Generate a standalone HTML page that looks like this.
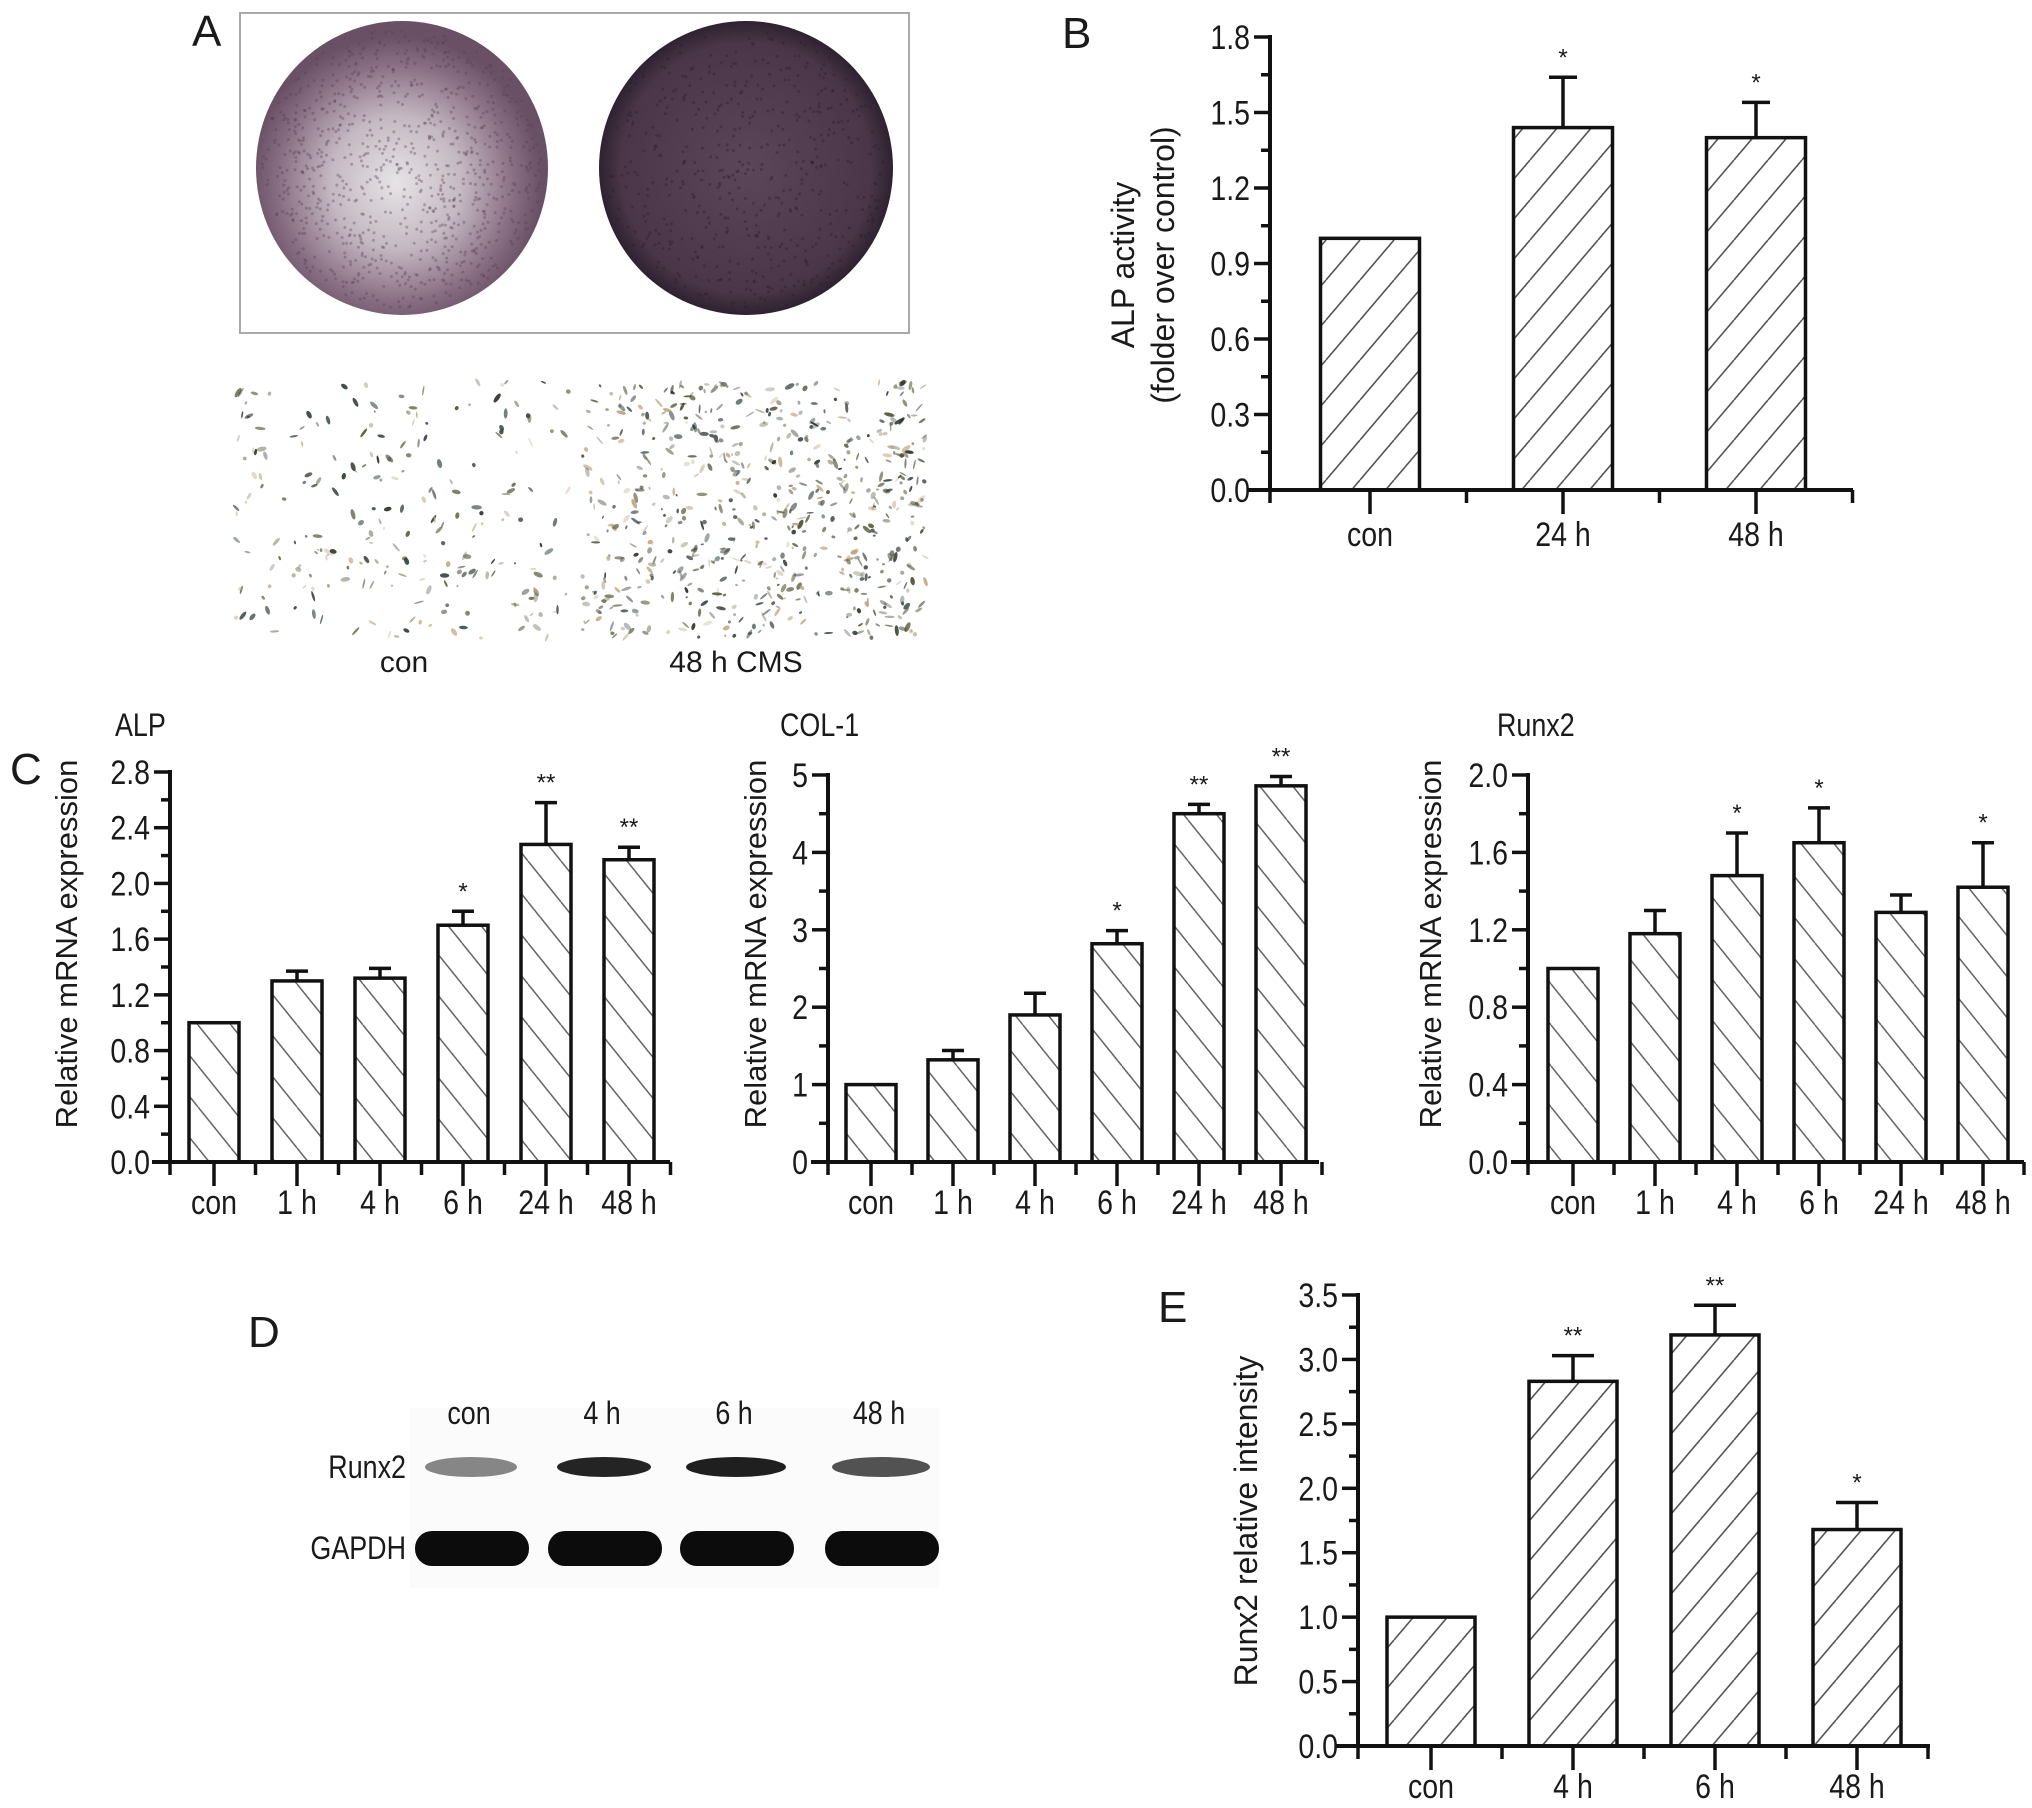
<!DOCTYPE html>
<html><head><meta charset="utf-8"><style>
html,body{margin:0;padding:0;background:#fff;}
svg{display:block;}
.n{font-family:"Liberation Sans Narrow","Liberation Sans",sans-serif;fill:#1a1a1a;}
.r{font-family:"Liberation Sans",sans-serif;fill:#1a1a1a;}
</style></head><body>
<svg id="fig" width="2032" height="1808" viewBox="0 0 2032 1808" xmlns="http://www.w3.org/2000/svg">
<defs>
<pattern id="hf" patternUnits="userSpaceOnUse" width="34" height="40"><line x1="0" y1="40" x2="34" y2="0" stroke="#555" stroke-width="1.6"/><line x1="-34" y1="40" x2="0" y2="0" stroke="#555" stroke-width="1.6"/><line x1="34" y1="40" x2="68" y2="0" stroke="#555" stroke-width="1.6"/></pattern>
<pattern id="hb" patternUnits="userSpaceOnUse" width="33" height="41"><line x1="0" y1="0" x2="33" y2="41" stroke="#666" stroke-width="1.5"/><line x1="-33" y1="0" x2="0" y2="41" stroke="#666" stroke-width="1.5"/><line x1="33" y1="0" x2="66" y2="41" stroke="#666" stroke-width="1.5"/></pattern>
<radialGradient id="d1" cx="0.48" cy="0.55" r="0.5"><stop offset="0" stop-color="#e6e4e6"/><stop offset="0.45" stop-color="#c4b8c2"/><stop offset="0.8" stop-color="#8a7084"/><stop offset="1" stop-color="#6a5064"/></radialGradient>
<radialGradient id="d2" cx="0.5" cy="0.5" r="0.5"><stop offset="0" stop-color="#5a4658"/><stop offset="0.85" stop-color="#4a3648"/><stop offset="1" stop-color="#2e2230"/></radialGradient>
</defs>

<!-- Panel A -->
<text class="r" x="192" y="46" font-size="44">A</text>
<rect x="240" y="13" width="669" height="320" fill="#fff" stroke="#aaa" stroke-width="2"/>
<ellipse cx="402" cy="168" rx="146" ry="147" fill="url(#d1)"/>
<ellipse cx="746" cy="168" rx="147" ry="147" fill="url(#d2)"/>
<g id="micro1"></g>
<g id="micro2"></g>
<text class="r" x="404" y="672" font-size="30" text-anchor="middle">con</text>
<text class="r" x="736" y="672" font-size="30" text-anchor="middle">48 h CMS</text>

<!-- Panel D -->
<text class="r" x="248" y="1347" font-size="44">D</text>
<rect x="410" y="1408" width="529" height="180" fill="#fbfbfb"/>
<g id="blot"></g>

<g id="charts"></g>
</svg>
<script>
// ---------- Panel B data ----------
const bCats = ["con","24 h","48 h"];
const bVals = [1.0, 1.44, 1.40];
const bErr = [0, 0.20, 0.14];
const bSig = ["", "*", "*"];
const bTicks = ["0.0","0.3","0.6","0.9","1.2","1.5","1.8"];
// ---------- Panel C ALP ----------
const alpCats = ["con","1 h","4 h","6 h","24 h","48 h"];
const alpVals = [1.0, 1.30, 1.32, 1.70, 2.28, 2.17];
const alpErr = [0, 0.07, 0.07, 0.10, 0.30, 0.09];
const alpSig = ["","","","*","**","**"];
const alpTicks = ["0.0","0.4","0.8","1.2","1.6","2.0","2.4","2.8"];
// ---------- Panel C COL-1 ----------
const colCats = ["con","1 h","4 h","6 h","24 h","48 h"];
const colVals = [1.0, 1.32, 1.90, 2.82, 4.50, 4.86];
const colErr = [0, 0.12, 0.28, 0.17, 0.12, 0.12];
const colSig = ["","","","*","**","**"];
const colTicks = ["0","1","2","3","4","5"];
// ---------- Panel C Runx2 ----------
const runCats = ["con","1 h","4 h","6 h","24 h","48 h"];
const runVals = [1.0, 1.18, 1.48, 1.65, 1.29, 1.42];
const runErr = [0, 0.12, 0.22, 0.18, 0.09, 0.23];
const runSig = ["","","*","*","","*"];
const runTicks = ["0.0","0.4","0.8","1.2","1.6","2.0"];
// ---------- Panel E ----------
const eCats = ["con","4 h","6 h","48 h"];
const eVals = [1.0, 2.83, 3.19, 1.68];
const eErr = [0, 0.20, 0.23, 0.21];
const eSig = ["","**","**","*"];
const eTicks = ["0.0","0.5","1.0","1.5","2.0","2.5","3.0","3.5"];
// ---------- Panel D blot band intensities (0..1) ----------
const blotLanes = ["con","4 h","6 h","48 h"];
const runxBand = [0.5, 0.92, 0.94, 0.72];
const gapdhBand = [1, 1, 1, 1];

const NS="http://www.w3.org/2000/svg";
const root=document.getElementById('charts');
function mk(tag,attrs,parent){const e=document.createElementNS(NS,tag);for(const k in attrs)e.setAttribute(k,attrs[k]);(parent||root).appendChild(e);return e;}
// condensed text helper
function ctext(parent,x,y,size,anchor,str,sx){
  const t=mk('text',{transform:`translate(${x},${y}) scale(${sx||0.84},1)`,'text-anchor':anchor,'font-size':size,class:'n'},parent);
  t.textContent=str;return t;
}

function chart(o){
  const g=mk('g',{});
  
  
  const ymax=parseFloat(o.ticks[o.ticks.length-1]);
  const y=v=>o.y0-(v/ymax)*(o.y0-o.yTop);
  const x=i=>o.c0+i*o.pitch;
  o.vals.forEach((v,i)=>{
    const r=mk('rect',{x:x(i)-o.bw/2,y:y(v),width:o.bw,height:o.y0-y(v),fill:'url(#'+o.hatch+')',stroke:'#111','stroke-width':3.5},g);
    
    
    if(o.err[i]>0){
      const ey=y(v+o.err[i]);
      const eb=mk('path',{d:`M${x(i)} ${y(v)}V${ey}M${x(i)-o.cap/2} ${ey}H${x(i)+o.cap/2}`,stroke:'#111','stroke-width':3.5,fill:'none'},g);
      
      
    }
    if(o.sig[i]){
      const s=mk('text',{x:x(i),y:y(v+o.err[i])-12,'text-anchor':'middle','font-size':o.sf||24,class:'r'},g);
      s.textContent=o.sig[i];
      
      
    }
  });
  const ya=mk('path',{d:`M${o.ax} ${o.yTop-2}V${o.y0}`,stroke:'#111','stroke-width':4,fill:'none'},g);
  
  
  const n=o.ticks.length-1;
  for(let k=0;k<=n*2;k++){
    const v=ymax*k/(n*2);const yy=y(v);
    mk('line',{x1:o.ax-(k%2?9:16),x2:o.ax,y1:yy,y2:yy,stroke:'#111','stroke-width':3.5},g);
  }
  o.ticks.forEach(t=>{
    const tt=ctext(g,o.ax-20,y(parseFloat(t))+12,o.tf||34,'end',t);
    
    
  });
  const xa=mk('path',{d:`M${o.xl} ${o.y0}H${o.xr}`,stroke:'#111','stroke-width':4,fill:'none'},g);
  
  
  o.cats.forEach((c,i)=>{
    mk('line',{x1:x(i),x2:x(i),y1:o.y0,y2:o.y0+24,stroke:'#111','stroke-width':3.5},g);
    mk('line',{x1:x(i)+o.pitch/2,x2:x(i)+o.pitch/2,y1:o.y0,y2:o.y0+13,stroke:'#111','stroke-width':3.5},g);
    const t=ctext(g,x(i),o.labY,o.tf||34,'middle',c);
    
    
  });
  mk('line',{x1:o.ax,x2:o.ax,y1:o.y0,y2:o.y0+13,stroke:'#111','stroke-width':3.5},g);
  o.ytitle.forEach((l,j)=>{
    const t=mk('text',{transform:`translate(${o.ytx+j*40},${o.yty}) rotate(-90)`,'text-anchor':'middle','font-size':o.ytf||31,class:'r'},g);
    t.textContent=l;
    
    
  });
  if(o.title){
    const t=ctext(g,o.title[1],o.title[2],32,'start',o.title[0]);
    
    
  }
  if(o.letter){
    const t=mk('text',{x:o.letter[1],y:o.letter[2],'font-size':44,class:'r'},g);
    t.textContent=o.letter[0];
    
    
  }
}

chart({name:'chart-b-alp-activity',cats:bCats,vals:bVals,err:bErr,sig:bSig,ticks:bTicks,hatch:'hf',
  ax:1270,y0:490,yTop:37,c0:1370,pitch:193,bw:99,cap:28,xl:1247,xr:1853,labY:546,
  ytitle:['ALP activity','(folder over control)'],ytx:1134,yty:265,ytf:32,letter:['B',1062,48]});
chart({name:'chart-c-alp-mrna',cats:alpCats,vals:alpVals,err:alpErr,sig:alpSig,ticks:alpTicks,hatch:'hb',
  ax:170,y0:1162,yTop:772,c0:214,pitch:83,bw:50,cap:22,xl:152,xr:670,labY:1214,
  ytitle:['Relative mRNA expression'],ytx:77,yty:944,title:['ALP',115,736],letter:['C',10,784]});
chart({name:'chart-c-col1-mrna',cats:colCats,vals:colVals,err:colErr,sig:colSig,ticks:colTicks,hatch:'hb',
  ax:828,y0:1162,yTop:775,c0:871,pitch:82,bw:50,cap:22,xl:811,xr:1319,labY:1214,
  ytitle:['Relative mRNA expression'],ytx:766,yty:944,title:['COL-1',780,736]});
chart({name:'chart-c-runx2-mrna',cats:runCats,vals:runVals,err:runErr,sig:runSig,ticks:runTicks,hatch:'hb',
  ax:1528,y0:1162,yTop:775,c0:1573,pitch:82,bw:50,cap:22,xl:1511,xr:2024,labY:1214,
  ytitle:['Relative mRNA expression'],ytx:1441,yty:944,title:['Runx2',1497,736]});
chart({name:'chart-e-runx2-intensity',cats:eCats,vals:eVals,err:eErr,sig:eSig,ticks:eTicks,hatch:'hf',
  ax:1358,y0:1746,yTop:1295,c0:1431,pitch:142,bw:88,cap:42,xl:1336,xr:1930,labY:1798,
  ytitle:['Runx2 relative intensity'],ytx:1257,yty:1521,ytf:32,letter:['E',1158,1322]});

// Western blot
const blot=document.getElementById('blot');
const laneX=[469,602,734,879], laneW=[92,94,100,98];
blotLanes.forEach((l,i)=>{
  const t=ctext(blot,laneX[i],1424,32,'middle',l);
  
  
  const a=mk('ellipse',{cx:laneX[i]+2,cy:1467,rx:laneW[i]/2,ry:10,fill:'#111','fill-opacity':runxBand[i]},blot);
  
  
  const b=mk('rect',{x:laneX[i]-54,y:1531,width:114,height:35,rx:17,fill:'#0c0c0c','fill-opacity':gapdhBand[i]},blot);
  
  
});
[['Runx2',1478],['GAPDH',1559]].forEach(r=>{
  const t=ctext(blot,406,r[1],32,'end',r[0]);
  
  
});

// Micrograph decoration (texture only)
let seed=7;const rnd=()=>{seed=(seed*16807)%2147483647;return seed/2147483647;};
function micro(id,x0,x1,n){
  const g=document.getElementById(id);
  mk('rect',{x:x0,y:380,width:x1-x0,height:260,fill:'#ffffff'},g);
  const cols=['#1f2a20','#4a4a2a','#b8a27a','#2a3a38','#6a6a50'];
  for(let k=0;k<n;k++){
    const cx=x0+rnd()*(x1-x0),cy=382+rnd()*256,ang=Math.floor(rnd()*180);
    mk('ellipse',{cx:cx,cy:cy,rx:1+rnd()*4.5,ry:0.8+rnd()*1.6,fill:cols[Math.floor(rnd()*5)],'fill-opacity':0.3+rnd()*0.6,transform:`rotate(${ang} ${cx} ${cy})`},g);
  }
}
micro('micro1',236,570,230);
micro('micro2',582,926,650);
for(let k=0;k<900;k++){const a=rnd()*6.283,r=Math.sqrt(rnd())*140;mk('circle',{cx:402+r*Math.cos(a),cy:168+r*Math.sin(a),r:1.5,fill:'#5a3a55','fill-opacity':0.35});}
for(let k=0;k<500;k++){const a=rnd()*6.283,r=Math.sqrt(rnd())*140;mk('circle',{cx:746+r*Math.cos(a),cy:168+r*Math.sin(a),r:1.5,fill:'#2a1e2a','fill-opacity':0.4});}
</script>
</body></html>
